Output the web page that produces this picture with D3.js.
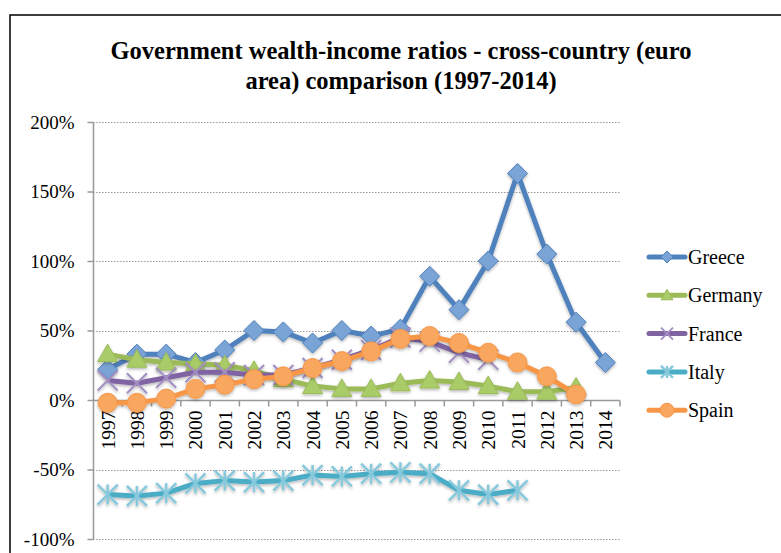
<!DOCTYPE html>
<meta charset="utf-8">
<style>
body { margin: 0; background: #fff; }
</style>
<svg width="781" height="553"></svg>
<script src="https://cdnjs.cloudflare.com/ajax/libs/d3/7.8.5/d3.min.js"></script>
<script>

var years = ["1997","1998","1999","2000","2001","2002","2003","2004","2005",
             "2006","2007","2008","2009","2010","2011","2012","2013","2014"];

// values in % (null = no data)
var greece  = [22, 33, 33, 27, 36, 50, 49, 41, 50, 46, 51, 89, 65, 100, 163, 105, 56, 27];
var germany = [33, 29, 27, 26, 25, 21, 15, 10, 8, 8, 12, 14, 13, 10, 6, 6, 9, null];
var france  = [14, 12, 16, 20, 20, 18, 18, 23, 29, 36, 45, 42, 34, 29, null, null, null, null];
var italy   = [-68, -69, -67, -60, -58, -59, -58, -54, -55, -53, -52, -53, -65, -68, -65, null, null, null];
var spain   = [-2, -2, 1, 8, 11, 15, 17, 23, 28, 35, 44, 46, 41, 34, 27, 17, 4, null];

var yTicks = [-100, -50, 0, 50, 100, 150, 200];

var series = [
  {name: "Greece",  values: greece,  color: "#4F81BD", fill: "#7aa3d6", marker: "diamond"},
  {name: "Germany", values: germany, color: "#9BBB59", fill: "#a9cb68", marker: "triangle"},
  {name: "France",  values: france,  color: "#8064A2", fill: "#a38fc2", marker: "x"},
  {name: "Italy",   values: italy,   color: "#4BACC6", fill: "#86c9dc", marker: "asterisk"},
  {name: "Spain",   values: spain,   color: "#F79646", fill: "#f9a65f", marker: "circle"}
];

var serif = "'Liberation Serif'";

var svg = d3.select("svg");

var defs = svg.append("defs");
var shadow = defs.append("filter").attr("id", "shadow")
    .attr("x", "-50%").attr("y", "-50%").attr("width", "200%").attr("height", "200%");
shadow.append("feDropShadow")
    .attr("dx", 0).attr("dy", 1.5).attr("stdDeviation", 1.5)
    .attr("flood-color", "#000").attr("flood-opacity", 0.3);

// chart frame
svg.append("rect")
    .attr("x", 10).attr("y", 15)
    .attr("width", 800).attr("height", 600)
    .attr("fill", "none")
    .attr("stroke", "#000")
    .attr("stroke-width", 1.5);

// title
var title = svg.append("text")
    .attr("text-anchor", "middle")
    .style("font-family", serif).style("font-size", "24.5px").style("font-weight", "bold");
title.append("tspan").attr("x", 401).attr("y", 59).text("Government wealth-income ratios - cross-country (euro");
title.append("tspan").attr("x", 401).attr("y", 89).text("area) comparison (1997-2014)");

var x = d3.scaleBand().domain(years).range([93, 620]);
var y = d3.scaleLinear().domain([-100, 200]).range([539, 122]);

// gridlines
svg.append("g")
  .selectAll("line")
  .data(yTicks.filter(function(d) { return d !== 0; }))
  .join("line")
    .attr("x1", 93).attr("x2", 620)
    .attr("y1", function(d) { return Math.round(y(d)) + 0.5; })
    .attr("y2", function(d) { return Math.round(y(d)) + 0.5; })
    .attr("stroke", "#999")
    .attr("stroke-width", 1)
    .attr("stroke-dasharray", "1.5,1.5");

// y axis
var yAxis = svg.append("g")
    .attr("transform", "translate(93.5,0)")
    .call(d3.axisLeft(y).tickValues(yTicks).tickSize(6).tickPadding(13)
      .tickFormat(function(d) { return d + "%"; }));
yAxis.attr("font-family", null).attr("font-size", null);
yAxis.selectAll("line, path").attr("stroke", "#999").attr("stroke-width", 1.5);
yAxis.select(".domain").attr("d", "M0," + y(200) + "V" + y(-100));
yAxis.selectAll("text")
    .attr("fill", "#000")
    .style("font-family", serif).style("font-size", "19px");

// x axis at zero
var xAxis = svg.append("g")
    .attr("transform", "translate(0," + (Math.round(y(0)) + 0.5) + ")");
xAxis.append("line")
    .attr("x1", 93).attr("x2", 620)
    .attr("stroke", "#999").attr("stroke-width", 1.5);
xAxis.selectAll(".tick")
  .data(years)
  .join("line")
    .attr("class", "tick")
    .attr("x1", function(d) { return x(d) + x.bandwidth(); })
    .attr("x2", function(d) { return x(d) + x.bandwidth(); })
    .attr("y1", 0).attr("y2", 6)
    .attr("stroke", "#999").attr("stroke-width", 1.5);
xAxis.selectAll(".lbl")
  .data(years)
  .join("text")
    .attr("class", "lbl")
    .attr("transform", function(d) {
      return "translate(" + (x(d) + x.bandwidth() / 2 + 7) + ",10) rotate(-90)";
    })
    .attr("text-anchor", "end")
    .style("font-family", serif).style("font-size", "19.5px")
    .text(function(d) { return d; });

var line = d3.line()
    .defined(function(d) { return d != null; })
    .x(function(d, i) { return x(years[i]) + x.bandwidth() / 2; })
    .y(function(d) { return y(d); });

function drawMarker(g, type, color, fill, s) {
  if (type === "diamond") {
    g.append("path").attr("d", "M0,-" + s + "L" + s + ",0L0," + s + "L-" + s + ",0Z")
      .attr("fill", fill).attr("stroke", color).attr("stroke-width", 1);
  } else if (type === "triangle") {
    g.append("path").attr("d", "M0,-" + s + "L" + s + "," + (s * 0.75) + "L-" + s + "," + (s * 0.75) + "Z")
      .attr("fill", fill).attr("stroke", color).attr("stroke-width", 1);
  } else if (type === "circle") {
    g.append("circle").attr("r", s)
      .attr("fill", fill).attr("stroke", color).attr("stroke-width", 1);
  } else if (type === "x") {
    g.append("path").attr("d", "M-" + s + ",-" + s + "L" + s + "," + s + "M" + s + ",-" + s + "L-" + s + "," + s)
      .attr("stroke", fill).attr("stroke-width", 2);
  } else if (type === "asterisk") {
    g.append("path").attr("d", "M-" + s + ",-" + s + "L" + s + "," + s + "M" + s + ",-" + s + "L-" + s + "," + s +
        "M0,-" + s + "L0," + s)
      .attr("stroke", fill).attr("stroke-width", 2.5);
  }
}

series.forEach(function(s) {
  var g = svg.append("g").attr("filter", "url(#shadow)");
  g.append("path")
    .datum(s.values)
    .attr("fill", "none")
    .attr("stroke", s.color)
    .attr("stroke-width", 5)
    .attr("stroke-linejoin", "round")
    .attr("d", line);
  s.values.forEach(function(v, i) {
    if (v == null) return;
    var m = g.append("g")
      .attr("transform", "translate(" + (x(years[i]) + x.bandwidth() / 2) + "," + y(v) + ")");
    drawMarker(m, s.marker, s.color, s.fill, s.marker === "circle" ? 9.5 : 10);
  });
});

// legend
var legend = svg.append("g");
series.forEach(function(s, i) {
  var ly = 257 + i * 38.3;
  var row = legend.append("g").attr("transform", "translate(0," + ly + ")");
  row.append("line")
    .attr("x1", 649).attr("x2", 685)
    .attr("y1", 0).attr("y2", 0)
    .attr("stroke", s.color).attr("stroke-width", 5).attr("stroke-linecap", "round");
  var m = row.append("g").attr("transform", "translate(667,0)");
  drawMarker(m, s.marker, s.color, s.fill, s.marker === "circle" ? 7 : 6);
  row.append("text")
    .attr("x", 688).attr("y", 7)
    .style("font-family", serif).style("font-size", "20px")
    .text(s.name);
});

</script>
